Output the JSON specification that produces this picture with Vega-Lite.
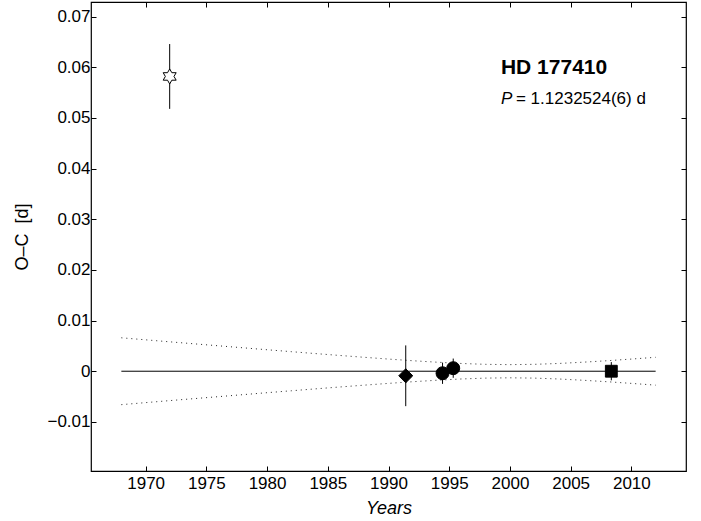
{
  "$schema": "https://vega.github.io/schema/vega-lite/v6.json",
  "width": 595,
  "height": 469,
  "autosize": "none",
  "padding": {"left": 91, "top": 2, "right": 15, "bottom": 50},
  "config": {
    "view": {"stroke": "#000000", "strokeWidth": 1.2},
    "font": "Liberation Sans",
    "axis": {
      "domain": false,
      "grid": false,
      "tickColor": "#000000",
      "tickSize": -5,
      "tickWidth": 1,
      "labelFont": "Liberation Sans",
      "labelFontSize": 17,
      "labelColor": "#000000",
      "titleFont": "Liberation Sans",
      "titleFontSize": 18,
      "titleFontWeight": "normal",
      "titleColor": "#000000"
    }
  },
  "datasets": {
    "band": [
      {"year": 1968, "band": "upper", "v": 0.0066}, {"year": 1970, "band": "upper", "v": 0.0062},
      {"year": 1972, "band": "upper", "v": 0.0058}, {"year": 1974, "band": "upper", "v": 0.00541},
      {"year": 1976, "band": "upper", "v": 0.00502}, {"year": 1978, "band": "upper", "v": 0.00463},
      {"year": 1980, "band": "upper", "v": 0.00424}, {"year": 1982, "band": "upper", "v": 0.00386},
      {"year": 1984, "band": "upper", "v": 0.00348}, {"year": 1986, "band": "upper", "v": 0.00311},
      {"year": 1988, "band": "upper", "v": 0.00275}, {"year": 1990, "band": "upper", "v": 0.0024},
      {"year": 1992, "band": "upper", "v": 0.00207}, {"year": 1994, "band": "upper", "v": 0.00178},
      {"year": 1996, "band": "upper", "v": 0.00153}, {"year": 1998, "band": "upper", "v": 0.00136},
      {"year": 2000, "band": "upper", "v": 0.0013}, {"year": 2002, "band": "upper", "v": 0.00136},
      {"year": 2004, "band": "upper", "v": 0.00153}, {"year": 2006, "band": "upper", "v": 0.00178},
      {"year": 2008, "band": "upper", "v": 0.00207}, {"year": 2010, "band": "upper", "v": 0.0024},
      {"year": 2012, "band": "upper", "v": 0.00275},
      {"year": 1968, "band": "lower", "v": -0.0066}, {"year": 1970, "band": "lower", "v": -0.0062},
      {"year": 1972, "band": "lower", "v": -0.0058}, {"year": 1974, "band": "lower", "v": -0.00541},
      {"year": 1976, "band": "lower", "v": -0.00502}, {"year": 1978, "band": "lower", "v": -0.00463},
      {"year": 1980, "band": "lower", "v": -0.00424}, {"year": 1982, "band": "lower", "v": -0.00386},
      {"year": 1984, "band": "lower", "v": -0.00348}, {"year": 1986, "band": "lower", "v": -0.00311},
      {"year": 1988, "band": "lower", "v": -0.00275}, {"year": 1990, "band": "lower", "v": -0.0024},
      {"year": 1992, "band": "lower", "v": -0.00207}, {"year": 1994, "band": "lower", "v": -0.00178},
      {"year": 1996, "band": "lower", "v": -0.00153}, {"year": 1998, "band": "lower", "v": -0.00136},
      {"year": 2000, "band": "lower", "v": -0.0013}, {"year": 2002, "band": "lower", "v": -0.00136},
      {"year": 2004, "band": "lower", "v": -0.00153}, {"year": 2006, "band": "lower", "v": -0.00178},
      {"year": 2008, "band": "lower", "v": -0.00207}, {"year": 2010, "band": "lower", "v": -0.0024},
      {"year": 2012, "band": "lower", "v": -0.00275}
    ],
    "zero": [
      {"year": 1968, "v": 0},
      {"year": 2012, "v": 0}
    ],
    "minima": [
      {"year": 1971.98, "oc": 0.0582, "lo": 0.0518, "hi": 0.0646, "kind": "photographic"},
      {"year": 1991.42, "oc": -0.0009, "lo": -0.0069, "hi": 0.0051, "kind": "Hipparcos"},
      {"year": 1994.45, "oc": -0.0004, "lo": -0.0025, "hi": 0.0017, "kind": "photoelectric"},
      {"year": 1995.33, "oc": 0.0006, "lo": -0.0013, "hi": 0.0025, "kind": "photoelectric"},
      {"year": 2008.35, "oc": 0.0, "lo": -0.0018, "hi": 0.0018, "kind": "CCD"}
    ],
    "labels": [
      {"year": 1999.26, "oc": 0.0586, "label": "HD 177410"}
    ],
    "period": [
      {"year": 1999.26, "oc": 0.0528, "sym": "P", "rest": "= 1.1232524(6) d"}
    ]
  },
  "resolve": {"axis": {"x": "independent", "y": "independent"}},
  "layer": [
    {
      "data": {"name": "band"},
      "mark": {"type": "line", "stroke": "#222222", "strokeWidth": 1, "strokeDash": [1, 4]},
      "encoding": {
        "x": {"field": "year", "type": "quantitative",
              "scale": {"domain": [1965.5, 2014.5], "zero": false, "nice": false},
              "axis": {"orient": "bottom", "values": [1970, 1975, 1980, 1985, 1990, 1995, 2000, 2005, 2010],
                       "format": "d", "title": "Years", "titleFontStyle": "italic",
                       "labelPadding": 9, "titlePadding": 8}},
        "y": {"field": "v", "type": "quantitative",
              "scale": {"domain": [-0.0197, 0.0729], "zero": false, "nice": false},
              "axis": {"orient": "left", "values": [-0.01, 0, 0.01, 0.02, 0.03, 0.04, 0.05, 0.06, 0.07],
                       "format": ".2~f", "title": "O–C\u00a0\u00a0[d]", "labelPadding": 6, "titlePadding": 15}},
        "detail": {"field": "band"}
      }
    },
    {
      "data": {"name": "zero"},
      "mark": {"type": "line", "stroke": "#000000", "strokeWidth": 1},
      "encoding": {
        "x": {"field": "year", "type": "quantitative",
              "axis": {"orient": "top", "values": [1970, 1975, 1980, 1985, 1990, 1995, 2000, 2005, 2010],
                       "labels": false, "title": null}},
        "y": {"field": "v", "type": "quantitative",
              "axis": {"orient": "right", "values": [-0.01, 0, 0.01, 0.02, 0.03, 0.04, 0.05, 0.06, 0.07],
                       "labels": false, "title": null}}
      }
    },
    {
      "data": {"name": "minima"},
      "mark": {"type": "rule", "stroke": "#000000", "strokeWidth": 1},
      "encoding": {
        "x": {"field": "year", "type": "quantitative", "axis": null},
        "y": {"field": "lo", "type": "quantitative", "axis": null},
        "y2": {"field": "hi"}
      }
    },
    {
      "data": {"name": "minima"},
      "mark": {"type": "point", "filled": true, "stroke": "#000000", "strokeWidth": 1, "opacity": 1},
      "encoding": {
        "x": {"field": "year", "type": "quantitative", "axis": null},
        "y": {"field": "oc", "type": "quantitative", "axis": null},
        "shape": {"field": "kind", "type": "nominal", "legend": null,
                  "scale": {"domain": ["photographic", "Hipparcos", "photoelectric", "CCD"],
                            "range": ["M0,-1L0.289,-0.5L0.866,-0.5L0.577,0L0.866,0.5L0.289,0.5L0,1L-0.289,0.5L-0.866,0.5L-0.577,0L-0.866,-0.5L-0.289,-0.5Z", "diamond", "circle", "square"]}},
        "fill": {"field": "kind", "type": "nominal", "legend": null,
                 "scale": {"domain": ["photographic", "Hipparcos", "photoelectric", "CCD"],
                           "range": ["#ffffff", "#000000", "#000000", "#000000"]}},
        "size": {"field": "kind", "type": "nominal", "legend": null,
                 "scale": {"domain": ["photographic", "Hipparcos", "photoelectric", "CCD"],
                           "range": [225, 140, 121, 81]}}
      }
    },
    {
      "data": {"name": "labels"},
      "mark": {"type": "text", "align": "left", "baseline": "alphabetic", "font": "Liberation Sans",
               "fontSize": 21, "fontWeight": "bold", "color": "#000000"},
      "encoding": {
        "x": {"field": "year", "type": "quantitative", "axis": null},
        "y": {"field": "oc", "type": "quantitative", "axis": null},
        "text": {"field": "label"}
      }
    },
    {
      "data": {"name": "period"},
      "mark": {"type": "text", "align": "left", "baseline": "alphabetic", "font": "Liberation Sans",
               "fontSize": 17, "fontStyle": "italic", "color": "#000000"},
      "encoding": {
        "x": {"field": "year", "type": "quantitative", "axis": null},
        "y": {"field": "oc", "type": "quantitative", "axis": null},
        "text": {"field": "sym"}
      }
    },
    {
      "data": {"name": "period"},
      "mark": {"type": "text", "align": "left", "baseline": "alphabetic", "font": "Liberation Sans",
               "fontSize": 17, "dx": 15, "color": "#000000"},
      "encoding": {
        "x": {"field": "year", "type": "quantitative", "axis": null},
        "y": {"field": "oc", "type": "quantitative", "axis": null},
        "text": {"field": "rest"}
      }
    }
  ]
}
